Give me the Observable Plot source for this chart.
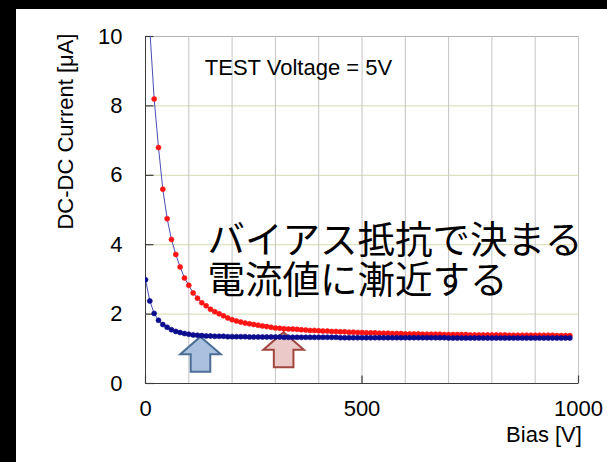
<!DOCTYPE html>
<html>
<head>
<meta charset="utf-8">
<script src="https://cdn.jsdelivr.net/npm/d3@7"></script>
<script src="https://cdn.jsdelivr.net/npm/@observablehq/plot@0.6"></script>
<style>
  html, body { margin: 0; padding: 0; background: #000; }
  body { width: 607px; height: 462px; position: relative; overflow: hidden; }
  #panel { position: absolute; left: 16px; top: 9px; width: 591px; height: 453px; background: #fff; }
</style>
</head>
<body>
<div id="panel"></div>
<script>
// Bias sweep (V)
const bias = [
  0, 10, 20, 30, 40, 50, 60, 70, 80, 90,
  100, 110, 120, 130, 140, 150, 160, 170, 180, 190,
  200, 210, 220, 230, 240, 250, 260, 270, 280, 290,
  300, 310, 320, 330, 340, 350, 360, 370, 380, 390,
  400, 410, 420, 430, 440, 450, 460, 470, 480, 490,
  500, 510, 520, 530, 540, 550, 560, 570, 580, 590,
  600, 610, 620, 630, 640, 650, 660, 670, 680, 690,
  700, 710, 720, 730, 740, 750, 760, 770, 780, 790,
  800, 810, 820, 830, 840, 850, 860, 870, 880, 890,
  900, 910, 920, 930, 940, 950, 960, 970, 980
];

// DC-DC current (µA), upper (red) curve
const currentRed = [
  12.2, 10.2, 8.2, 6.8, 5.6, 4.75, 4.15, 3.72, 3.36, 3.04,
  2.83, 2.61, 2.46, 2.33, 2.24, 2.14, 2.07, 2.01, 1.95, 1.89,
  1.84, 1.80, 1.77, 1.74, 1.72, 1.70, 1.68, 1.66, 1.64, 1.62,
  1.60, 1.59, 1.58, 1.57, 1.57, 1.56, 1.55, 1.54, 1.53, 1.53,
  1.52, 1.51, 1.51, 1.50, 1.50, 1.49, 1.49, 1.48, 1.48, 1.47,
  1.47, 1.46, 1.46, 1.46, 1.45, 1.45, 1.45, 1.44, 1.44, 1.44,
  1.43, 1.43, 1.43, 1.43, 1.42, 1.42, 1.42, 1.42, 1.42, 1.41,
  1.41, 1.41, 1.41, 1.41, 1.41, 1.40, 1.40, 1.40, 1.40, 1.40,
  1.40, 1.40, 1.40, 1.40, 1.39, 1.39, 1.39, 1.39, 1.39, 1.39,
  1.39, 1.39, 1.39, 1.39, 1.39, 1.38, 1.38, 1.38, 1.38
];

// DC-DC current (µA), lower (blue) curve
const currentBlue = [
  2.99, 2.38, 2.02, 1.82, 1.70, 1.62, 1.55, 1.50, 1.47, 1.44,
  1.42, 1.40, 1.39, 1.38, 1.37, 1.37, 1.36, 1.36, 1.36, 1.35,
  1.35, 1.35, 1.35, 1.35, 1.34, 1.34, 1.34, 1.34, 1.34, 1.34,
  1.34, 1.34, 1.33, 1.33, 1.33, 1.33, 1.33, 1.33, 1.33, 1.33,
  1.33, 1.33, 1.33, 1.33, 1.33, 1.32, 1.32, 1.32, 1.32, 1.32,
  1.32, 1.32, 1.32, 1.32, 1.32, 1.32, 1.32, 1.32, 1.32, 1.32,
  1.32, 1.32, 1.32, 1.32, 1.32, 1.32, 1.32, 1.32, 1.32, 1.32,
  1.31, 1.31, 1.31, 1.31, 1.31, 1.31, 1.31, 1.31, 1.31, 1.31,
  1.31, 1.31, 1.31, 1.31, 1.31, 1.31, 1.31, 1.31, 1.31, 1.31,
  1.31, 1.31, 1.31, 1.31, 1.31, 1.31, 1.31, 1.31, 1.31
];

const yTicks = [0, 2, 4, 6, 8, 10];
const xTicks = [0, 500, 1000];
const xGrid = [100, 200, 300, 400, 500, 600, 700, 800, 900, 1000];
const yGrid = [2, 4, 6, 8];

const xLabel = "Bias [V]";
const yLabel = "DC-DC Current [μA]";
const testLabel = "TEST Voltage = 5V";
const noteLines = ["バイアス抵抗で決まる", "電流値に漸近する"];

// Arrows pointing at the two asymptotes
const arrows = [
  {bias: 127, current: 1.35, fill: "#a9c1de", stroke: "#4c6d96"},
  {bias: 319, current: 1.48, fill: "#ebc9c9", stroke: "#a0463f"}
];

const red = bias.map((b, i) => ({bias: b, current: currentRed[i]}));
const blue = bias.map((b, i) => ({bias: b, current: currentBlue[i]}));

// Symbol shapes drawn in pixels around the anchor point
const hTick = {draw(ctx) { ctx.moveTo(0, 0); ctx.lineTo(8, 0); }};
const vTick = {draw(ctx) { ctx.moveTo(0, 0); ctx.lineTo(0, -8); }};
const upArrow = {draw(ctx) {
  ctx.moveTo(0, 0);
  ctx.lineTo(20.3, 17.5);
  ctx.lineTo(9.8, 17.5);
  ctx.lineTo(9.8, 35);
  ctx.lineTo(-9.8, 35);
  ctx.lineTo(-9.8, 17.5);
  ctx.lineTo(-20.3, 17.5);
  ctx.closePath();
}};

const latin = "'Liberation Sans', Arial, sans-serif";
const cjk = "'Noto Sans CJK JP', sans-serif";
const lineColor = "#4b4bb6";

const chart = Plot.plot({
  width: 591,
  height: 453,
  marginLeft: 129,
  marginRight: 29,
  marginTop: 27,
  marginBottom: 79,
  style: {background: "#fff", fontFamily: latin, fontSize: "22px", color: "#000"},
  x: {domain: [0, 1000], axis: null},
  y: {domain: [0, 10], axis: null},
  marks: [
    Plot.ruleY(yGrid, {stroke: "#d6dab0", strokeWidth: 1}),
    Plot.ruleX(xGrid, {stroke: "#c4c4c4", strokeWidth: 1}),
    Plot.ruleY([10], {stroke: "#b4b4b4", strokeWidth: 1}),
    Plot.ruleX([0], {stroke: "#3c3c3c", strokeWidth: 1}),
    Plot.ruleY([0], {stroke: "#3c3c3c", strokeWidth: 1}),
    Plot.dot(yTicks, {x: 0, y: d => d, symbol: hTick, stroke: "#3c3c3c", fill: "none", strokeWidth: 1.2}),
    Plot.dot(xTicks, {x: d => d, y: 0, symbol: vTick, stroke: "#3c3c3c", fill: "none", strokeWidth: 1.2}),
    Plot.text(yTicks, {y: d => d, text: d => String(d), frameAnchor: "left", textAnchor: "end", lineAnchor: "middle", dx: -23, fill: "#000"}),
    Plot.text(xTicks, {x: d => d, text: d => String(d), frameAnchor: "bottom", textAnchor: "middle", lineAnchor: "top", dy: 17, fill: "#000"}),
    Plot.text([xLabel], {frameAnchor: "bottom-right", textAnchor: "end", lineAnchor: "bottom", dx: 3.4, dy: 58.7, fill: "#000"}),
    Plot.text([yLabel], {frameAnchor: "top-left", rotate: -90, textAnchor: "end", lineAnchor: "middle", dx: -80, dy: -3, fill: "#000"}),
    Plot.text([testLabel], {frameAnchor: "top-left", textAnchor: "start", lineAnchor: "bottom", dx: 59.3, dy: 38, fill: "#000"}),
    Plot.text([noteLines[0]], {frameAnchor: "top-left", textAnchor: "start", lineAnchor: "bottom", dx: 62, dy: 216, fontFamily: cjk, fontSize: 37.5, fill: "#000"}),
    Plot.text([noteLines[1]], {frameAnchor: "top-left", textAnchor: "start", lineAnchor: "bottom", dx: 62, dy: 256, fontFamily: cjk, fontSize: 37.5, fill: "#000"}),
    Plot.dot(arrows, {x: "bias", y: "current", symbol: upArrow, fill: d => d.fill, stroke: d => d.stroke, strokeWidth: 2}),
    Plot.line(red, {x: "bias", y: "current", stroke: lineColor, strokeWidth: 1, clip: true}),
    Plot.dot(red, {x: "bias", y: "current", r: 2.5, fill: "#ff1414", stroke: "#ff1414", strokeWidth: 0.6, clip: true}),
    Plot.line(blue, {x: "bias", y: "current", stroke: lineColor, strokeWidth: 1, clip: true}),
    Plot.dot(blue, {x: "bias", y: "current", r: 2.5, fill: "#0c0c8e", stroke: "#0c0c8e", strokeWidth: 0.6, clip: true})
  ]
});

document.getElementById("panel").appendChild(chart);
</script>
</body>
</html>
